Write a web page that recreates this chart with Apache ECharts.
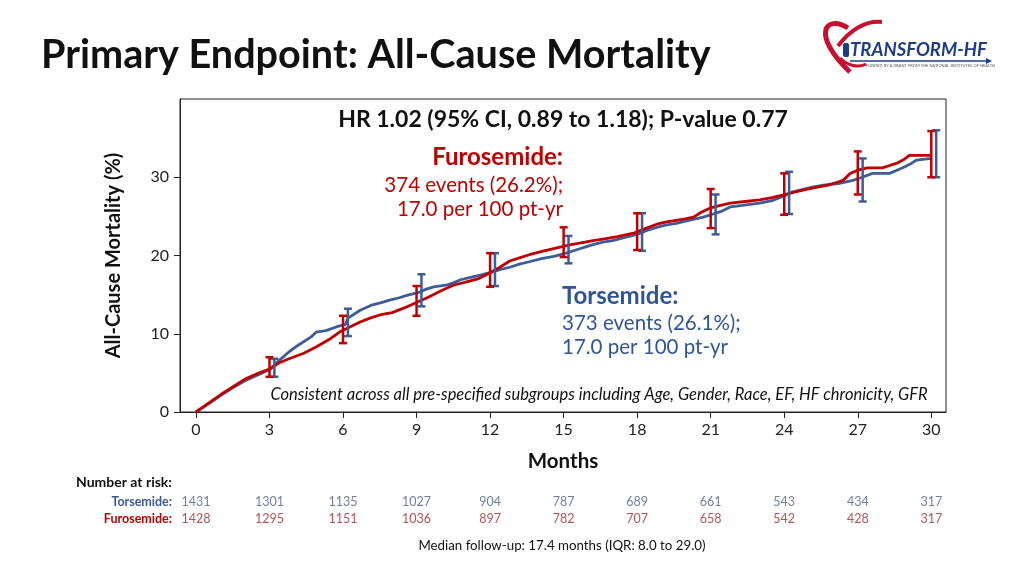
<!DOCTYPE html>
<html><head><meta charset="utf-8">
<script src="https://cdn.jsdelivr.net/npm/echarts@6/dist/echarts.min.js"></script>
<style>html,body{margin:0;padding:0;background:#fff}#c{width:1024px;height:576px}</style>
</head><body><div id="c"></div>
<script>
// ---- data ----
const monthTicks = [0,3,6,9,12,15,18,21,24,27,30];
const yTicks = [0,10,20,30];
const furosemideCurve = [[0,0],[0.5,1.1],[1.0,2.2],[1.5,3.2],[2.0,4.2],[2.5,4.9],[3.0,5.5],[3.4,6.3],[3.8,6.8],[4.4,7.5],[4.9,8.3],[5.5,9.4],[5.9,10.3],[6.3,10.9],[6.7,11.5],[7.1,12.0],[7.5,12.4],[8.0,12.7],[8.5,13.3],[9.0,14.0],[9.5,14.7],[10.0,15.5],[10.5,16.2],[11.0,16.6],[11.5,17.0],[12.0,17.8],[12.4,18.5],[12.8,19.3],[13.2,19.7],[13.6,20.1],[14.2,20.6],[14.9,21.1],[15.3,21.4],[15.7,21.6],[16.2,21.9],[16.6,22.1],[17.2,22.4],[17.9,22.9],[18.3,23.4],[18.8,24.0],[19.2,24.3],[19.6,24.5],[20.0,24.7],[20.3,24.9],[20.6,25.5],[21.0,26.1],[21.4,26.4],[21.8,26.7],[22.4,26.9],[23.0,27.1],[23.5,27.4],[23.9,27.7],[24.3,28.0],[24.8,28.4],[25.3,28.7],[25.8,29.0],[26.1,29.3],[26.4,29.6],[26.7,30.5],[27.0,30.9],[27.4,31.2],[28.0,31.2],[28.3,31.5],[28.6,31.8],[28.9,32.3],[29.1,32.8],[30.0,32.8]];
const torsemideCurve = [[0,0],[0.5,1.0],[1.0,2.1],[1.5,3.1],[2.0,4.0],[2.5,4.7],[3.0,5.4],[3.4,6.6],[3.8,7.7],[4.2,8.6],[4.7,9.6],[4.9,10.2],[5.3,10.4],[5.75,10.9],[6.1,11.2],[6.2,12.0],[6.4,12.4],[6.7,13.0],[7.2,13.7],[7.6,14.0],[7.9,14.3],[8.3,14.6],[8.6,14.9],[9.1,15.3],[9.4,15.7],[9.7,16.0],[10.2,16.2],[10.5,16.5],[10.8,16.9],[11.2,17.2],[11.6,17.5],[12.1,17.9],[12.4,18.2],[12.8,18.5],[13.2,18.9],[13.6,19.2],[14.1,19.6],[14.6,19.9],[15.1,20.3],[15.5,20.7],[15.9,21.1],[16.2,21.4],[16.6,21.7],[17.0,21.9],[17.5,22.3],[18.0,22.7],[18.4,23.2],[18.8,23.6],[19.2,23.9],[19.6,24.1],[20.1,24.5],[20.7,24.9],[21.1,25.3],[21.4,25.6],[21.8,26.2],[22.3,26.4],[23.0,26.7],[23.5,27.0],[24.0,27.6],[24.3,28.1],[24.7,28.4],[25.1,28.7],[25.6,29.0],[26.2,29.2],[26.8,29.6],[27.1,29.9],[27.6,30.5],[28.3,30.5],[28.6,30.9],[28.9,31.3],[29.2,31.8],[29.4,32.2],[30.0,32.4]];
// error bars: [month, lower, upper]
const furosemideCI = [[3,4.5,7.0],[6,8.8,12.3],[9,12.3,16.1],[12,16.0,20.3],[15,19.8,23.6],[18,20.7,25.4],[21,23.5,28.5],[24,25.2,30.5],[27,27.8,33.3],[30,30.0,35.9]];
const torsemideCI = [[3,4.5,6.8],[6,9.7,13.2],[9,13.5,17.6],[12,16.1,20.3],[15,19.0,22.5],[18,20.6,25.4],[21,22.7,27.8],[24,25.3,30.7],[27,26.9,32.4],[30,30.0,36.0]];
const riskMonths = [0,3,6,9,12,15,18,21,24,27,30];
const torsemideAtRisk = [1431,1301,1135,1027,904,787,689,661,543,434,317];
const furosemideAtRisk = [1428,1295,1151,1036,897,782,707,658,542,428,317];
const riskGroups = ['Torsemide','Furosemide'];

// ---- styles ----
const RED = '#C00000', BLUE = '#3E5C9A';
const FONT = 'Lato, "Open Sans", sans-serif';
const chart = echarts.init(document.getElementById('c'));

function errorBar(color, offset) {
  return function (params, api) {
    const x = api.value(0) + offset;
    const lo = api.coord([x, api.value(1)]);
    const hi = api.coord([x, api.value(2)]);
    const w = 4;
    const st = { stroke: color, lineWidth: 2.5 };
    return { type: 'group', children: [
      { type: 'line', shape: { x1: lo[0], y1: lo[1], x2: hi[0], y2: hi[1] }, style: st },
      { type: 'line', shape: { x1: lo[0]-w, y1: lo[1], x2: lo[0]+w, y2: lo[1] }, style: st },
      { type: 'line', shape: { x1: hi[0]-w, y1: hi[1], x2: hi[0]+w, y2: hi[1] }, style: st }
    ]};
  };
}

function riskData(vals, group) { return riskMonths.map((m, i) => [m, group, vals[i]]); }

const option = {
  animation: false,
  textStyle: { fontFamily: FONT },
  grid: [
    { left: 180, right: 78, top: 99, bottom: 164, show: true, borderColor: '#222', borderWidth: 1 },
    { left: 180, right: 78, top: 493, height: 34 }
  ],
  xAxis: [
    { type: 'value', gridIndex: 0, min: -0.65, max: 30.6,
      name: 'Months', nameLocation: 'middle', nameGap: 39,
      nameTextStyle: { fontSize: 20.5, fontWeight: 'bold', color: '#111', fontFamily: FONT },
      axisLine: { onZero: false, lineStyle: { color: '#222', width: 1 } },
      axisTick: { show: true, inside: false, length: 6, customValues: monthTicks, lineStyle: { color: '#222' } },
      axisLabel: { customValues: monthTicks, fontSize: 16, color: '#222', margin: 10, fontFamily: FONT },
      splitLine: { show: false } },
    { type: 'value', gridIndex: 1, min: -0.65, max: 30.6, show: false }
  ],
  yAxis: [
    { type: 'value', gridIndex: 0, min: 0, max: 40,
      name: 'All-Cause Mortality (%)', nameLocation: 'middle', nameGap: 56, nameRotate: 90,
      nameTextStyle: { fontSize: 20, fontWeight: 'bold', color: '#111', fontFamily: FONT },
      axisLine: { show: true, onZero: false, lineStyle: { color: '#222', width: 1 } },
      axisTick: { show: true, inside: false, length: 6, customValues: yTicks, lineStyle: { color: '#222' } },
      axisLabel: { customValues: yTicks, fontSize: 16, color: '#222', margin: 11, fontFamily: FONT },
      splitLine: { show: false } },
    { type: 'category', gridIndex: 1, data: riskGroups, inverse: true,
      axisLine: { show: false }, axisTick: { show: false }, splitLine: { show: false },
      axisLabel: { margin: 8, fontSize: 12.5, fontWeight: 'bold', fontFamily: FONT,
        color: function (v) { return v === 'Torsemide' ? '#3A5894' : RED; },
        formatter: function (v) { return v + ':'; } } }
  ],
  series: [
    { type: 'line', name: 'Torsemide', data: torsemideCurve, showSymbol: false,
      lineStyle: { color: BLUE, width: 2.8 }, z: 3 },
    { type: 'line', name: 'Furosemide', data: furosemideCurve, showSymbol: false,
      lineStyle: { color: RED, width: 2.8 }, z: 4 },
    { type: 'custom', data: torsemideCI, renderItem: errorBar(BLUE, 0.2), z: 5 },
    { type: 'custom', data: furosemideCI, renderItem: errorBar(RED, 0), z: 6 },
    { type: 'scatter', xAxisIndex: 1, yAxisIndex: 1, symbolSize: 0, data: riskData(torsemideAtRisk, 'Torsemide'),
      label: { show: true, position: 'inside', formatter: p => p.value[2], color: '#4A5C8C', fontSize: 12.5, fontFamily: FONT } },
    { type: 'scatter', xAxisIndex: 1, yAxisIndex: 1, symbolSize: 0, data: riskData(furosemideAtRisk, 'Furosemide'),
      label: { show: true, position: 'inside', formatter: p => p.value[2], color: '#A0282C', fontSize: 12.5, fontFamily: FONT } }
  ],
  graphic: [
    { type: 'text', x: 41, y: 55, style: { text: 'Primary Endpoint: All-Cause Mortality', font: 'bold 39.6px ' + FONT, fill: '#111', verticalAlign: 'middle' } },
    { type: 'text', x: 563, y: 120, style: { text: 'HR 1.02 (95% CI, 0.89 to 1.18); P-value 0.77', font: 'bold 23px ' + FONT, fill: '#111', align: 'center', verticalAlign: 'middle' } },
    { type: 'text', x: 563, y: 157, style: { text: 'Furosemide:', font: 'bold 24px ' + FONT, fill: RED, align: 'right', verticalAlign: 'middle' } },
    { type: 'text', x: 563, y: 185, style: { text: '374 events (26.2%);', font: '20.5px ' + FONT, fill: RED, align: 'right', verticalAlign: 'middle' } },
    { type: 'text', x: 563, y: 209, style: { text: '17.0 per 100 pt-yr', font: '20.5px ' + FONT, fill: RED, align: 'right', verticalAlign: 'middle' } },
    { type: 'text', x: 562, y: 296, style: { text: 'Torsemide:', font: 'bold 24px ' + FONT, fill: '#2F5597', align: 'left', verticalAlign: 'middle' } },
    { type: 'text', x: 562, y: 323, style: { text: '373 events (26.1%);', font: '20.5px ' + FONT, fill: '#2F5597', align: 'left', verticalAlign: 'middle' } },
    { type: 'text', x: 562, y: 347, style: { text: '17.0 per 100 pt-yr', font: '20.5px ' + FONT, fill: '#2F5597', align: 'left', verticalAlign: 'middle' } },
    { type: 'text', x: 599, y: 395, style: { text: 'Consistent across all pre-specified subgroups including Age, Gender, Race, EF, HF chronicity, GFR', font: 'italic 16.5px ' + FONT, fill: '#111', align: 'center', verticalAlign: 'middle' } },
    { type: 'text', x: 76, y: 482, style: { text: 'Number at risk:', font: 'bold 14px ' + FONT, fill: '#111', align: 'left', verticalAlign: 'middle' } },
    { type: 'text', x: 562, y: 546, style: { text: 'Median follow-up: 17.4 months (IQR: 8.0 to 29.0)', font: '13.3px ' + FONT, fill: '#111', align: 'center', verticalAlign: 'middle' } },
    // logo
    { type: 'bezierCurve', shape: { x1: 848, y1: 28, cpx1: 826, cpy1: 14, cpx2: 810, cpy2: 34, x2: 850, y2: 72 }, style: { stroke: '#C8102E', lineWidth: 5, fill: null } },
    { type: 'bezierCurve', shape: { x1: 838, y1: 46, cpx1: 850, cpy1: 30, cpx2: 866, cpy2: 20, x2: 882, y2: 22 }, style: { stroke: '#C8102E', lineWidth: 4, fill: null } },
    { type: 'bezierCurve', shape: { x1: 840, y1: 58, cpx1: 848, cpy1: 66, cpx2: 858, cpy2: 68, x2: 866, y2: 64 }, style: { stroke: '#C8102E', lineWidth: 3, fill: null } },
    { type: 'rect', shape: { x: 843, y: 43, width: 6, height: 14, r: 2 }, style: { fill: '#1F3C88' } },
    { type: 'text', x: 850, y: 50, style: { text: 'TRANSFORM-HF', font: 'italic bold 18.5px ' + FONT, fill: '#1F3C88', verticalAlign: 'middle' } },
    { type: 'line', shape: { x1: 850, y1: 61, x2: 988, y2: 61 }, style: { stroke: '#1F3C88', lineWidth: 1.5 } },
    { type: 'polygon', shape: { points: [[986,58],[992,61],[986,64]] }, style: { fill: '#1F3C88' } },
    { type: 'text', x: 866, y: 66, style: { text: 'FUNDED BY A GRANT FROM THE NATIONAL INSTITUTES OF HEALTH', font: '4px ' + FONT, fill: '#555', verticalAlign: 'middle' } }
  ]
};
chart.setOption(option);
</script></body></html>
